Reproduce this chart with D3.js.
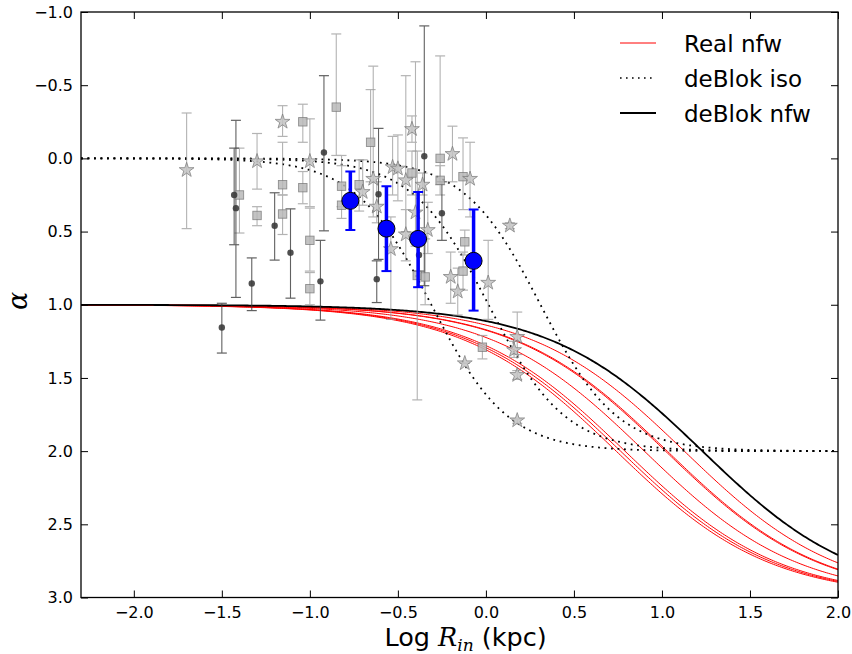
<!DOCTYPE html>
<html>
<head>
<meta charset="utf-8">
<script src="https://cdn.jsdelivr.net/npm/d3@7"></script>
<style>
  body { margin: 0; background: #fff; }
  svg { display: block; font-family: "DejaVu Sans", sans-serif; }
</style>
</head>
<body>
<svg id="chart" width="852" height="654"></svg>
<script>
// ---- Observed inner slopes: [log R_in, alpha, lower end, upper end] ----
const starPts = [
  [-1.70, 0.08, -0.31, 0.48],
  [-1.155, -0.25, -0.36, -0.15],
  [-1.30, 0.02, -0.17, 0.21],
  [-1.00, 0.02, -0.27, 0.33],
  [-0.70, 0.23, 0.01, 0.32],
  [-0.64, 0.14, -0.63, 0.40],
  [-0.62, 0.33, 0.16, 0.44],
  [-0.53, 0.06, -0.15, 0.25],
  [-0.50, 0.07, -0.16, 0.29],
  [-0.54, 0.62, 0.40, 1.10],
  [-0.455, 0.15, -0.565, 0.50],
  [-0.42, -0.20, -0.29, -0.11],
  [-0.40, 0.37, -0.66, 0.60],
  [-0.455, 0.52, 0.35, 0.70],
  [-0.33, 0.49, 0.30, 0.65],
  [-0.36, 0.18, 0.10, 0.25],
  [-0.19, -0.03, -0.22, 0.16],
  [-0.09, 0.14, -0.11, 0.40],
  [0.136, 0.46, 0.44, 0.48],
  [-0.20, 0.81, 0.64, 0.99],
  [-0.16, 0.91, 0.75, 1.07],
  [0.013, 0.85, 0.56, 1.10],
  [-0.12, 1.40, 1.40, 1.40],
  [0.178, 1.22, 1.05, 1.34],
  [0.16, 1.31, 1.25, 1.36],
  [0.178, 1.48, 1.45, 1.51],
  [0.178, 1.79, 1.78, 1.81]
];

const squarePts = [
  [-1.40, 0.25, -0.07, 0.51],
  [-1.30, 0.39, 0.33, 0.46],
  [-1.155, 0.18, -0.11, 0.25],
  [-1.155, 0.38, 0.25, 0.52],
  [-1.04, -0.25, -0.37, -0.11],
  [-1.04, 0.20, 0.09, 0.31],
  [-1.00, 0.56, 0.34, 0.77],
  [-1.00, 0.89, 0.78, 1.00],
  [-0.85, -0.35, -0.85, -0.02],
  [-0.82, 0.19, 0.05, 0.33],
  [-0.82, 0.32, -0.02, 0.41],
  [-0.72, 0.18, 0.01, 0.36],
  [-0.655, -0.11, -0.47, 0.16],
  [-0.42, 0.10, -0.05, 0.25],
  [-0.26, 0.00, -0.70, 0.18],
  [-0.26, 0.15, 0.05, 0.25],
  [-0.13, 0.125, -0.14, 0.35],
  [-0.12, 0.57, 0.49, 0.66],
  [-0.13, 0.77, 0.64, 0.90],
  [-0.02, 1.29, 1.21, 1.37],
  [-0.39, 0.80, -0.05, 1.65],
  [-0.345, 0.81, 0.55, 1.00]
];

const darkPts = [
  [-1.43, 0.25, -0.07, 0.59],
  [-1.42, 0.34, -0.26, 0.95],
  [-1.20, 0.46, 0.235, 0.695],
  [-1.11, 0.645, 0.345, 0.955],
  [-0.92, -0.04, -0.565, 0.495],
  [-0.94, 0.84, 0.56, 1.105],
  [-1.33, 0.855, 0.68, 1.04],
  [-1.50, 1.155, 0.99, 1.33],
  [-0.61, 0.245, -0.205, 0.69],
  [-0.62, 0.825, 0.70, 0.985],
  [-0.35, -0.015, -0.905, 0.87],
  [-0.25, 0.375, 0.16, 0.56],
  [-0.38, 0.66, 0.55, 0.77]
];

// ---- Binned means ----
const binX = [-0.77, -0.565, -0.385, -0.07];
const binAlpha = [0.29, 0.48, 0.55, 0.70];
const binLo = [0.09, 0.19, 0.23, 0.35];
const binHi = [0.49, 0.77, 0.88, 1.04];

// ---- Model profiles (log10 of scale radius in kpc) ----
const realNfwLogRs = [1.127, 1.03, 1.02, 0.90, 0.79, 0.765, 0.74];
const deBlokNfwLogRs = [1.23];
const deBlokIsoLogRc = [-0.31, 0.015, 0.31];

// ---- Axis ticks ----
const xTicks = [-2.0, -1.5, -1.0, -0.5, 0.0, 0.5, 1.0, 1.5, 2.0];
const yTicks = [-1.0, -0.5, 0.0, 0.5, 1.0, 1.5, 2.0, 2.5, 3.0];
const legendLabels = ["Real nfw", "deBlok iso", "deBlok nfw"];

// ---- Layout ----
const svg = d3.select("#chart");
const L = 81, R = 838, T = 12, B = 597.5;
const x = d3.scaleLinear().domain([-2.3, 2.0]).range([L, R]);
const y = d3.scaleLinear().domain([-1.0, 3.0]).range([T, B]);
const fmt = d3.format(".1f");

svg.append("defs").append("clipPath").attr("id", "plotclip")
  .append("rect").attr("x", L).attr("y", T).attr("width", R - L).attr("height", B - T);

// log-slope of the density profiles
const nfwSlope = (lr, lrs) => { const s = Math.pow(10, lr - lrs); return (1 + 3 * s) / (1 + s); };
const isoSlope = (lr, lrc) => { const s2 = Math.pow(10, 2 * (lr - lrc)); return 2 * s2 / (1 + s2); };

const grid = d3.range(0, 401).map(i => -2.3 + i * 4.3 / 400);
const line = d3.line().x(d => x(d[0])).y(d => y(d[1]));

const curves = svg.append("g").attr("clip-path", "url(#plotclip)");

realNfwLogRs.forEach(lrs => {
  curves.append("path")
    .attr("d", line(grid.map(v => [v, nfwSlope(v, lrs)])))
    .attr("fill", "none").attr("stroke", "#ff0000").attr("stroke-width", 1);
});
deBlokIsoLogRc.forEach(lrc => {
  curves.append("path")
    .attr("d", line(grid.map(v => [v, isoSlope(v, lrc)])))
    .attr("fill", "none").attr("stroke", "#000").attr("stroke-width", 1.8)
    .attr("stroke-dasharray", "1.8,4.7");
});
deBlokNfwLogRs.forEach(lrs => {
  curves.append("path")
    .attr("d", line(grid.map(v => [v, nfwSlope(v, lrs)])))
    .attr("fill", "none").attr("stroke", "#000").attr("stroke-width", 1.8);
});

// ---- Points with error bars ----
const pts = svg.append("g").attr("clip-path", "url(#plotclip)");

function errorBars(g, data, color, width, capW, opacity) {
  const eb = g.append("g").attr("stroke", color).attr("stroke-width", width).attr("opacity", opacity);
  data.forEach(d => {
    eb.append("line").attr("x1", x(d[0])).attr("x2", x(d[0])).attr("y1", y(d[2])).attr("y2", y(d[3]));
    [d[2], d[3]].forEach(v => {
      eb.append("line").attr("x1", x(d[0]) - capW).attr("x2", x(d[0]) + capW)
        .attr("y1", y(v)).attr("y2", y(v)).attr("stroke-width", Math.max(width, 1.2));
    });
  });
}

errorBars(pts, squarePts, "#9a9a9a", 1.1, 5, 0.75);
errorBars(pts, starPts, "#9a9a9a", 1.1, 5, 0.75);
errorBars(pts, darkPts, "#3a3a3a", 1.1, 5, 0.8);

pts.append("g").selectAll("rect").data(squarePts).join("rect")
  .attr("x", d => x(d[0]) - 4.2).attr("y", d => y(d[1]) - 4.2)
  .attr("width", 8.4).attr("height", 8.4)
  .attr("fill", "#b9b9b9").attr("stroke", "#7a7a7a").attr("stroke-width", 0.9).attr("opacity", 0.85);

const star = d3.symbol().type(d3.symbolStar).size(68);
pts.append("g").selectAll("path").data(starPts).join("path")
  .attr("transform", d => `translate(${x(d[0])},${y(d[1])})`)
  .attr("d", star)
  .attr("fill", "#c4c4c4").attr("stroke", "#7a7a7a").attr("stroke-width", 0.9).attr("opacity", 0.85);

pts.append("g").selectAll("circle").data(darkPts).join("circle")
  .attr("cx", d => x(d[0])).attr("cy", d => y(d[1])).attr("r", 3.2)
  .attr("fill", "#3c3c3c").attr("opacity", 0.9);

// binned means
const bins = binX.map((v, i) => [v, binAlpha[i], binLo[i], binHi[i]]);
const bg = pts.append("g");
bins.forEach(d => {
  bg.append("line").attr("x1", x(d[0])).attr("x2", x(d[0])).attr("y1", y(d[2])).attr("y2", y(d[3]))
    .attr("stroke", "#0000ff").attr("stroke-width", 3.5);
  [d[2], d[3]].forEach(v => {
    bg.append("line").attr("x1", x(d[0]) - 5).attr("x2", x(d[0]) + 5)
      .attr("y1", y(v)).attr("y2", y(v)).attr("stroke", "#0000ff").attr("stroke-width", 2);
  });
});
bg.selectAll("circle").data(bins).join("circle")
  .attr("cx", d => x(d[0])).attr("cy", d => y(d[1])).attr("r", 8.5)
  .attr("fill", "#0000ff").attr("stroke", "#000").attr("stroke-width", 1);

// ---- Axes: ticks inward on all four sides ----
const tickStyle = g => {
  g.select(".domain").remove();
  g.selectAll(".tick line").attr("stroke", "#000").attr("stroke-width", 1);
  g.selectAll(".tick text").attr("font-size", 16).attr("font-family", "DejaVu Sans, sans-serif").attr("fill", "#000");
};
svg.append("g").attr("transform", `translate(0,${B})`)
  .call(d3.axisBottom(x).tickValues(xTicks).tickFormat(fmt).tickSize(-7).tickPadding(9)).call(tickStyle);
svg.append("g").attr("transform", `translate(0,${T})`)
  .call(d3.axisTop(x).tickValues(xTicks).tickFormat("").tickSize(-7)).call(tickStyle);
svg.append("g").attr("transform", `translate(${L},0)`)
  .call(d3.axisLeft(y).tickValues(yTicks).tickFormat(fmt).tickSize(-7).tickPadding(8)).call(tickStyle);
svg.append("g").attr("transform", `translate(${R},0)`)
  .call(d3.axisRight(y).tickValues(yTicks).tickFormat("").tickSize(-7)).call(tickStyle);

svg.append("rect").attr("x", L).attr("y", T).attr("width", R - L).attr("height", B - T)
  .attr("fill", "none").attr("stroke", "#000").attr("stroke-width", 1.3);

// ---- Axis labels ----
const xl = svg.append("text").attr("x", (L + R) / 2 + 6).attr("y", 646)
  .attr("text-anchor", "middle").attr("font-size", 25.5).attr("fill", "#000");
xl.append("tspan").text("Log ");
xl.append("tspan").attr("font-style", "italic").attr("font-family", "DejaVu Serif, serif").text("R");
xl.append("tspan").attr("font-style", "italic").attr("font-family", "DejaVu Serif, serif")
  .attr("font-size", 17).attr("dy", 5).text("in");
xl.append("tspan").attr("dy", -5).text(" (kpc)");

svg.append("text").attr("transform", "translate(27,301) rotate(-90)")
  .attr("text-anchor", "middle").attr("font-size", 27).attr("font-style", "italic")
  .attr("font-family", "DejaVu Serif, serif").attr("fill", "#000").text("α");

// ---- Legend ----
const legY = [43, 78, 113];
const lg = svg.append("g");
lg.append("line").attr("x1", 620).attr("x2", 656).attr("y1", legY[0]).attr("y2", legY[0])
  .attr("stroke", "#ff0000").attr("stroke-width", 1);
lg.append("line").attr("x1", 620).attr("x2", 656).attr("y1", legY[1]).attr("y2", legY[1])
  .attr("stroke", "#000").attr("stroke-width", 1.6).attr("stroke-dasharray", "1.6,4.4");
lg.append("line").attr("x1", 620).attr("x2", 656).attr("y1", legY[2]).attr("y2", legY[2])
  .attr("stroke", "#000").attr("stroke-width", 1.8);
legendLabels.forEach((t, i) => {
  lg.append("text").attr("x", 684).attr("y", legY[i] + 8.5)
    .attr("font-size", 23).attr("fill", "#000").text(t);
});
</script>
</body>
</html>
